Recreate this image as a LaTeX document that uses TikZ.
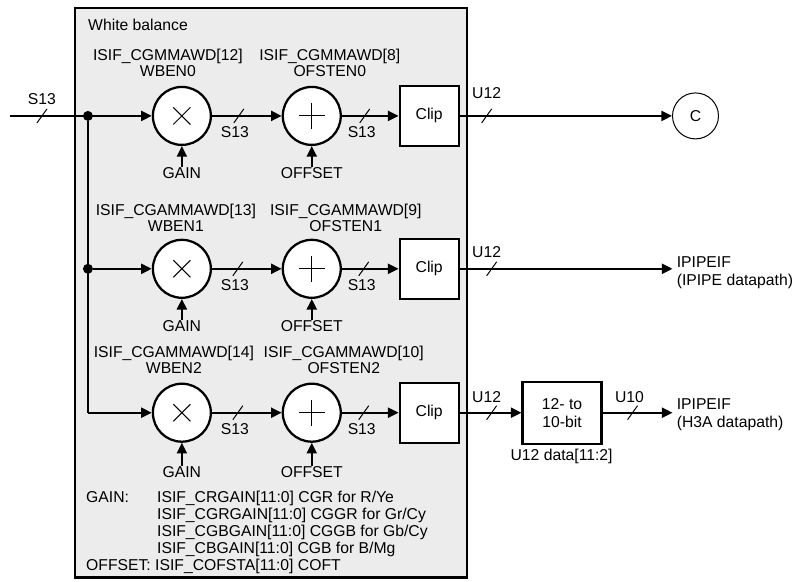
\documentclass[tikz,border=0pt]{standalone}
\usepackage{fontspec}
\setmainfont{Liberation Sans}
\usetikzlibrary{arrows.meta}
\definecolor{wbgray}{RGB}{236,236,236}

\begin{document}
\begin{tikzpicture}[x=0.75pt,y=-0.75pt]
\tikzset{
  lbl/.style={inner sep=0pt,font=\fontsize{11.8}{12}\selectfont,text height=8.5pt,text depth=0pt},
  twolbl/.style={inner sep=0pt,font=\fontsize{11.8}{12}\selectfont,align=center},
  outlbl/.style={inner sep=0pt,anchor=west,font=\fontsize{11.8}{13.5}\selectfont,align=left},
  mulnode/.style={circle,draw,line width=1.7pt,fill=white,minimum size=43.5pt,inner sep=0pt,
    path picture={\draw[line width=0.75pt]
      ([shift={(-6.4pt,-6.4pt)}]path picture bounding box.center) -- ([shift={(6.4pt,6.4pt)}]path picture bounding box.center)
      ([shift={(-6.4pt,6.4pt)}]path picture bounding box.center) -- ([shift={(6.4pt,-6.4pt)}]path picture bounding box.center);}},
  addnode/.style={circle,draw,line width=1.7pt,fill=white,minimum size=43.5pt,inner sep=0pt,
    path picture={\draw[line width=0.75pt]
      ([shift={(-9.75pt,0pt)}]path picture bounding box.center) -- ([shift={(9.75pt,0pt)}]path picture bounding box.center)
      ([shift={(0pt,-9.75pt)}]path picture bounding box.center) -- ([shift={(0pt,9.75pt)}]path picture bounding box.center);}},
  blockbox/.style={rectangle,draw,line width=1.7pt,fill=white,inner sep=0pt,align=center,
    font=\fontsize{11.8}{13.5}\selectfont},
  junction/.style={circle,fill,inner sep=0pt,minimum size=7.5pt},
  sig/.style={line width=1.7pt},
  sigarrow/.style={line width=1.7pt,-{Triangle[length=8pt,width=7.5pt]}},
  busmark/.style={line width=0.75pt}
}
% white balance block
\fill[wbgray] (75,8) rectangle (467,578);
\draw[line width=1.7pt] (75,8) rectangle (467,578);
\node[lbl,anchor=west] (n_title) at (88,25) {White balance};

% row 0
\coordinate (n_in0) at (10,116);
\node[junction] (n_j0) at (88,116) {};
\node[mulnode] (n_mul0) at (182,116) {};
\node[addnode] (n_add0) at (312,116) {};
\node[blockbox,minimum width=44.25pt,minimum height=45pt] (n_clip0) at (429.5,116) {Clip};
\node[circle,draw,line width=0.75pt,minimum size=34.5pt,inner sep=0pt,font=\fontsize{11.8}{12}\selectfont] (n_c) at (696,116) {C};
\node[twolbl] (n_wb0) at (168,63) {ISIF\_CGMMAWD[12]\\WBEN0};
\node[twolbl] (n_ofs0) at (330,63) {ISIF\_CGMMAWD[8]\\OFSTEN0};
\node[lbl] (n_gain0) at (182,173) {GAIN};
\node[lbl] (n_offset0) at (312,173) {OFFSET};
\node[lbl] (n_s13in) at (42,99) {S13};
\node[lbl] (n_s13a0) at (235,132) {S13};
\node[lbl] (n_s13b0) at (362,132) {S13};
\node[lbl] (n_u12a0) at (487,93) {U12};

% row 1
\node[junction] (n_j1) at (88,269) {};
\node[mulnode] (n_mul1) at (182,269) {};
\node[addnode] (n_add1) at (312,269) {};
\node[blockbox,minimum width=44.25pt,minimum height=45pt] (n_clip1) at (429.5,269) {Clip};
\coordinate (n_out1) at (673,269);
\node[outlbl] (n_ipipe) at (677,273) {IPIPEIF\\(IPIPE datapath)};
\node[twolbl] (n_wb1) at (176,218) {ISIF\_CGAMMAWD[13]\\WBEN1};
\node[twolbl] (n_ofs1) at (346,218) {ISIF\_CGAMMAWD[9]\\OFSTEN1};
\node[lbl] (n_gain1) at (182,326) {GAIN};
\node[lbl] (n_offset1) at (312,326) {OFFSET};
\node[lbl] (n_s13a1) at (235,285) {S13};
\node[lbl] (n_s13b1) at (362,285) {S13};
\node[lbl] (n_u12a1) at (487,252) {U12};

% row 2
\coordinate (n_j2) at (88,413);
\node[mulnode] (n_mul2) at (182,413) {};
\node[addnode] (n_add2) at (312,413) {};
\node[blockbox,minimum width=44.25pt,minimum height=45pt] (n_clip2) at (429.5,413) {Clip};
\node[blockbox,minimum width=59.25pt,minimum height=46.5pt] (n_conv) at (562.5,413) {12- to\\10-bit};
\coordinate (n_out2) at (673,413);
\node[outlbl] (n_h3a) at (677,415) {IPIPEIF\\(H3A datapath)};
\node[twolbl] (n_wb2) at (174,360) {ISIF\_CGAMMAWD[14]\\WBEN2};
\node[twolbl] (n_ofs2) at (344,360) {ISIF\_CGAMMAWD[10]\\OFSTEN2};
\node[lbl] (n_gain2) at (182,472) {GAIN};
\node[lbl] (n_offset2) at (312,472) {OFFSET};
\node[lbl] (n_s13a2) at (235,429) {S13};
\node[lbl] (n_s13b2) at (362,429) {S13};
\node[lbl] (n_u12a2) at (487,397) {U12};
\node[lbl] (n_u10) at (630,397) {U10};
\node[lbl] (n_trunc) at (562,455) {U12 data[11:2]};

% legend
\node[lbl,anchor=west] (n_lgain) at (86,497) {GAIN:};
\node[lbl,anchor=west] (n_lg0) at (157,497) {ISIF\_CRGAIN[11:0] CGR for R/Ye};
\node[lbl,anchor=west] (n_lg1) at (157,514) {ISIF\_CGRGAIN[11:0] CGGR for Gr/Cy};
\node[lbl,anchor=west] (n_lg2) at (157,531) {ISIF\_CGBGAIN[11:0] CGGB for Gb/Cy};
\node[lbl,anchor=west] (n_lg3) at (157,548) {ISIF\_CBGAIN[11:0] CGB for B/Mg};
\node[lbl,anchor=west] (n_loffset) at (86,565) {OFFSET: ISIF\_COFSTA[11:0] COFT};

% connectors
\draw[sigarrow] (n_in0) -- (n_mul0);
\draw[sig] (n_j0) -- (n_j2);
\draw[sigarrow] (n_j1) -- (n_mul1);
\draw[sigarrow] (n_j2) -- (n_mul2);
\draw[sigarrow] (n_mul0) -- (n_add0);
\draw[sigarrow] (n_add0) -- (n_clip0);
\draw[sigarrow] (n_clip0) -- (n_c);
\draw[sigarrow] (n_mul1) -- (n_add1);
\draw[sigarrow] (n_add1) -- (n_clip1);
\draw[sigarrow] (n_clip1) -- (n_out1);
\draw[sigarrow] (n_mul2) -- (n_add2);
\draw[sigarrow] (n_add2) -- (n_clip2);
\draw[sigarrow] (n_clip2) -- (n_conv);
\draw[sigarrow] (n_conv) -- (n_out2);
\draw[sigarrow] (n_gain0) -- (n_mul0);
\draw[sigarrow] (n_offset0) -- (n_add0);
\draw[sigarrow] (n_gain1) -- (n_mul1);
\draw[sigarrow] (n_offset1) -- (n_add1);
\draw[sigarrow] (n_gain2) -- (n_mul2);
\draw[sigarrow] (n_offset2) -- (n_add2);

% bus width marks
\draw[busmark] (42,116) ++(-5,7) -- ++(10,-14);
\draw[busmark] (239,116) ++(-5,7) -- ++(10,-14);
\draw[busmark] (365,116) ++(-5,7) -- ++(10,-14);
\draw[busmark] (487,116) ++(-5,7) -- ++(10,-14);
\draw[busmark] (238,269) ++(-5,7) -- ++(10,-14);
\draw[busmark] (364,269) ++(-5,7) -- ++(10,-14);
\draw[busmark] (492,269) ++(-5,7) -- ++(10,-14);
\draw[busmark] (238,413) ++(-5,7) -- ++(10,-14);
\draw[busmark] (364,413) ++(-5,7) -- ++(10,-14);
\draw[busmark] (492,413) ++(-5,7) -- ++(10,-14);
\draw[busmark] (633,413) ++(-5,7) -- ++(10,-14);

\useasboundingbox (0,0) rectangle (793,582);
\end{tikzpicture}
\end{document}
